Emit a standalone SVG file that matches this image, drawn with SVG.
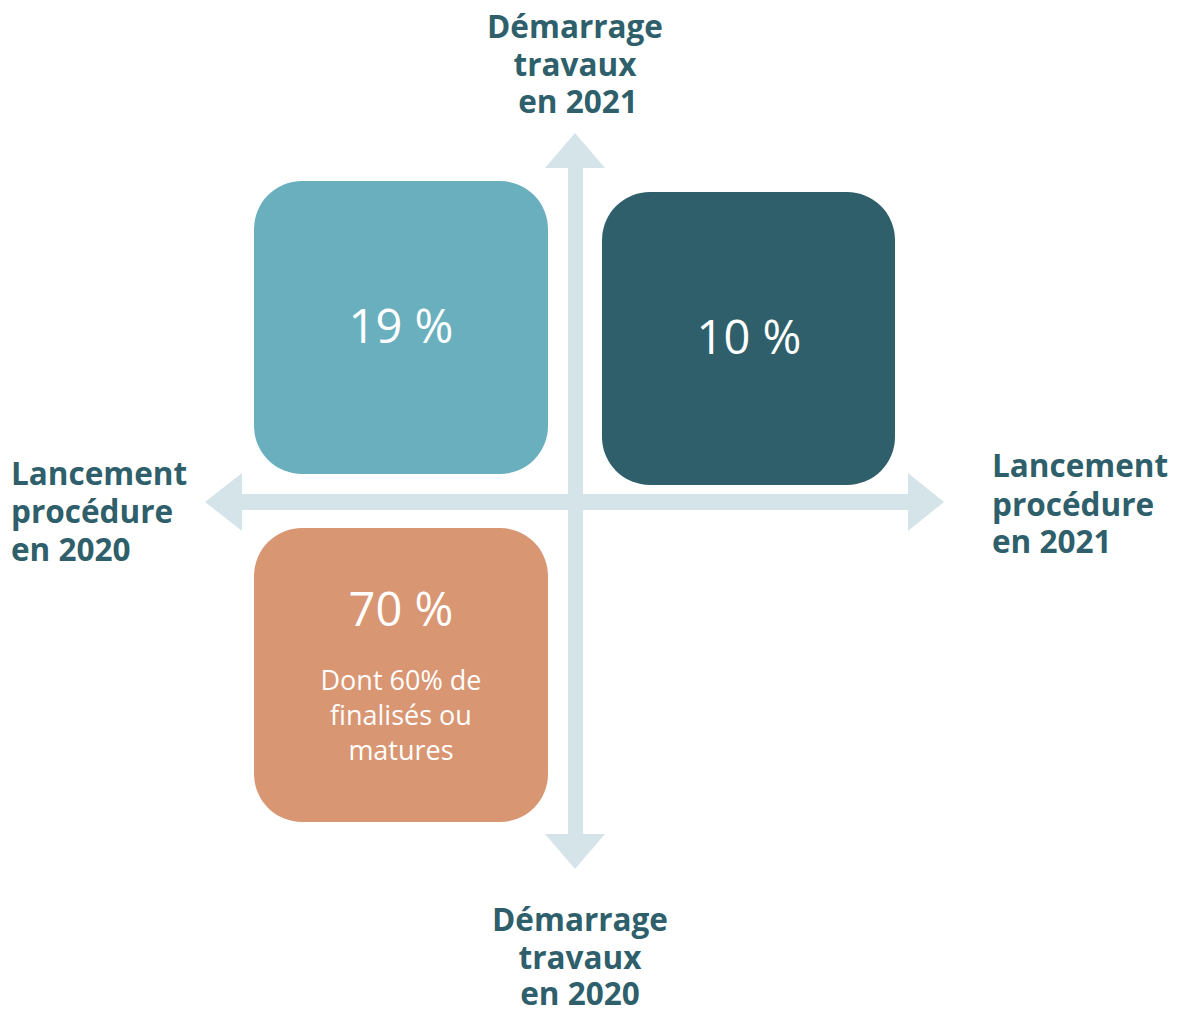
<svg xmlns="http://www.w3.org/2000/svg" width="1179" height="1011" viewBox="0 0 1179 1011">
<style>
.lbl{font-family:"Open Sans","Noto Sans",sans-serif;font-weight:700;font-size:31.5px;fill:#2E5F6B}
.big{font-family:"Open Sans","Noto Sans",sans-serif;font-size:47px;fill:#FFFFFF;text-anchor:middle}
.sub{font-family:"Open Sans","Noto Sans",sans-serif;font-size:27px;fill:#FFFFFF;text-anchor:middle}
.ax{fill:#D5E4E9}
</style>
<rect width="1179" height="1011" fill="#FFFFFF"/>
<g id="connectors">
<path class="ax" d="M568,168 L568,834 L545,834 L575,869 L605,834 L583,834 L583,168 L605,168 L575,133 L545,168 Z"/>
<path class="ax" d="M242,494 L908,494 L908,473 L944,502 L908,531 L908,510 L242,510 L242,531 L205,502 L242,473 Z"/>
</g>
<g id="box19">
<rect x="254" y="181" width="294" height="293" rx="48" fill="#6AAFBE"/>
<text class="big" x="401" y="343">19 %</text>
</g>
<g id="box10">
<rect x="602" y="192" width="293" height="293" rx="48" fill="#2E5F6B"/>
<text class="big" x="749" y="354">10 %</text>
</g>
<g id="box70">
<rect x="254" y="528" width="294" height="294" rx="48" fill="#D99673"/>
<text class="big" x="401" y="626">70 %</text>
<text class="sub" x="401" y="690">Dont 60% de</text>
<text class="sub" x="401" y="725">finalisés ou</text>
<text class="sub" x="401" y="760">matures</text>
</g>
<g id="label-top">
<text class="lbl" text-anchor="middle" x="575" y="38">Démarrage</text>
<text class="lbl" text-anchor="middle" x="575" y="76">travaux</text>
<text class="lbl" text-anchor="middle" x="578" y="113">en 2021</text>
</g>
<g id="label-bottom">
<text class="lbl" text-anchor="middle" x="580" y="931">Démarrage</text>
<text class="lbl" text-anchor="middle" x="580" y="969">travaux</text>
<text class="lbl" text-anchor="middle" x="580" y="1005">en 2020</text>
</g>
<g id="label-left">
<text class="lbl" x="11" y="485">Lancement</text>
<text class="lbl" x="11" y="523">procédure</text>
<text class="lbl" x="11" y="561">en 2020</text>
</g>
<g id="label-right">
<text class="lbl" x="992" y="477">Lancement</text>
<text class="lbl" x="992" y="516">procédure</text>
<text class="lbl" x="992" y="553">en 2021</text>
</g>
</svg>
